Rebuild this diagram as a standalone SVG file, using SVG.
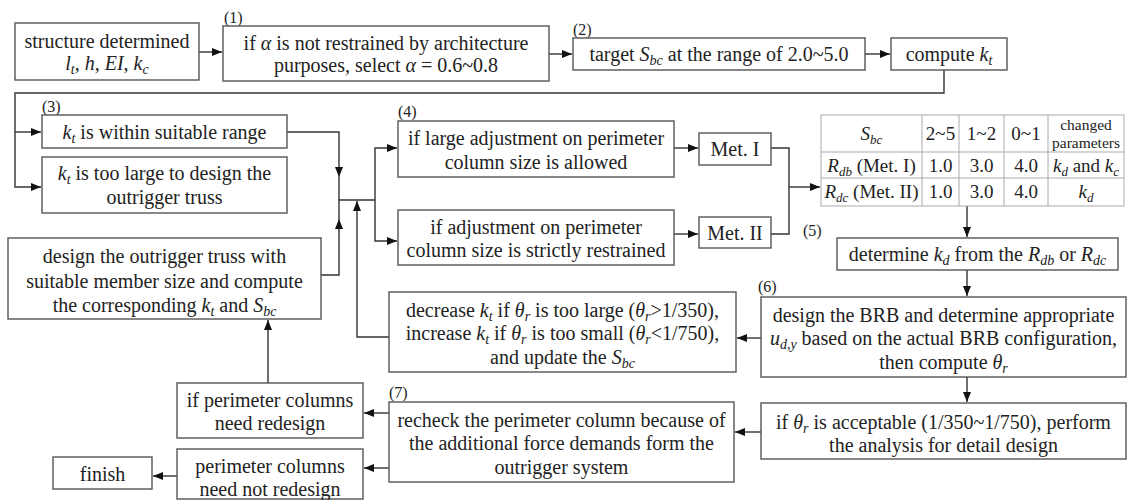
<svg xmlns="http://www.w3.org/2000/svg" width="1131" height="500" viewBox="0 0 1131 500" font-family="'Liberation Serif', 'Times New Roman', serif">
<defs>
<style>
.box{fill:#fff;stroke:#555;stroke-width:1.4}
.tb{fill:none;stroke:#aaa;stroke-width:1}
.c{fill:none;stroke:#333;stroke-width:1.4}
text{font-family:"Liberation Serif","Times New Roman",serif;font-size:20px;fill:#222;text-anchor:middle}
.lb{font-size:16px;text-anchor:start}
.i{font-style:italic}
.s{font-size:14px;font-style:italic}
.tt{font-size:19px}
.sm{font-size:15.5px}
.ts{font-size:13px;font-style:italic}
</style>
<marker id="ah" markerWidth="10" markerHeight="8" refX="10" refY="4" orient="auto" markerUnits="userSpaceOnUse"><path d="M0,0 L10,4 L0,8 z" fill="#111"/></marker>
</defs>
<rect width="1131" height="500" fill="#fff"/>

<g id="connectors">
<path class="c" d="M199,52 H222" marker-end="url(#ah)"/>
<path class="c" d="M549,54 H572" marker-end="url(#ah)"/>
<path class="c" d="M865,54 H890" marker-end="url(#ah)"/>
<path class="c" d="M944,70 V93 H15 V187 H41" marker-end="url(#ah)"/>
<path class="c" d="M15,132 H41" marker-end="url(#ah)"/>
<path class="c" d="M287,132 H339 V177" marker-end="url(#ah)"/>
<path class="c" d="M339,177 V200"/>
<path class="c" d="M321,275 H339 V219" marker-end="url(#ah)"/>
<path class="c" d="M339,219 V200 H375"/>
<path class="c" d="M389,337 H357 V201" marker-end="url(#ah)"/>
<path class="c" d="M375,200 V148 H397" marker-end="url(#ah)"/>
<path class="c" d="M375,200 V241 H397" marker-end="url(#ah)"/>
<path class="c" d="M674,148 H698" marker-end="url(#ah)"/>
<path class="c" d="M674,234 H698" marker-end="url(#ah)"/>
<path class="c" d="M771,148 H789 V234 H771"/>
<path class="c" d="M789,187 H820" marker-end="url(#ah)"/>
<path class="c" d="M967,206 V237" marker-end="url(#ah)"/>
<path class="c" d="M967,270 V296" marker-end="url(#ah)"/>
<path class="c" d="M761,338 H737" marker-end="url(#ah)"/>
<path class="c" d="M967,377 V402" marker-end="url(#ah)"/>
<path class="c" d="M761,432 H735" marker-end="url(#ah)"/>
<path class="c" d="M389,413 H364" marker-end="url(#ah)"/>
<path class="c" d="M389,468 H364" marker-end="url(#ah)"/>
<path class="c" d="M268,383 V320" marker-end="url(#ah)"/>
<path class="c" d="M177,476 H153" marker-end="url(#ah)"/>
</g>

<g id="labels">
<text class="lb" x="224" y="23">(1)</text>
<text class="lb" x="573" y="35">(2)</text>
<text class="lb" x="42" y="112">(3)</text>
<text class="lb" x="398" y="117">(4)</text>
<text class="lb" x="803" y="236">(5)</text>
<text class="lb" x="758" y="292">(6)</text>
<text class="lb" x="389" y="398">(7)</text>
</g>

<g id="n-structure">
<rect class="box" x="15" y="23" width="184" height="57"/>
<text x="107" y="48">structure determined</text>
<text x="107" y="70"><tspan class="i">l</tspan><tspan class="s" dy="4">t</tspan><tspan dy="-4">, </tspan><tspan class="i">h</tspan>, <tspan class="i">EI</tspan>, <tspan class="i">k</tspan><tspan class="s" dy="4">c</tspan></text>
</g>

<g id="n-alpha">
<rect class="box" x="223" y="26" width="326" height="55"/>
<text x="386" y="50">if <tspan class="i">α</tspan> is not restrained by architecture</text>
<text x="386" y="72">purposes, select <tspan class="i">α</tspan> = 0.6~0.8</text>
</g>

<g id="n-target">
<rect class="box" x="573" y="38" width="292" height="32"/>
<text x="719" y="61">target <tspan class="i">S</tspan><tspan class="s" dy="4">bc</tspan><tspan dy="-4"> at the range of 2.0~5.0</tspan></text>
</g>

<g id="n-compute">
<rect class="box" x="891" y="38" width="116" height="32"/>
<text x="949" y="61">compute <tspan class="i">k</tspan><tspan class="s" dy="4">t</tspan></text>
</g>

<g id="n-suitable">
<rect class="box" x="42" y="115" width="245" height="33"/>
<text x="164.5" y="138.5"><tspan class="i">k</tspan><tspan class="s" dy="4">t</tspan><tspan dy="-4"> is within suitable range</tspan></text>
</g>

<g id="n-toolarge">
<rect class="box" x="42" y="157" width="245" height="56"/>
<text x="164.5" y="180"><tspan class="i">k</tspan><tspan class="s" dy="4">t</tspan><tspan dy="-4"> is too large to design the</tspan></text>
<text x="164.5" y="204">outrigger truss</text>
</g>

<g id="n-designtruss">
<rect class="box" x="8" y="238" width="313" height="81"/>
<text x="164.5" y="263">design the outrigger truss with</text>
<text x="164.5" y="288">suitable member size and compute</text>
<text x="164.5" y="312">the corresponding <tspan class="i">k</tspan><tspan class="s" dy="4">t</tspan><tspan dy="-4"> and </tspan><tspan class="i">S</tspan><tspan class="s" dy="4">bc</tspan></text>
</g>

<g id="n-large">
<rect class="box" x="398" y="121" width="276" height="56"/>
<text x="536" y="145">if large adjustment on perimeter</text>
<text x="536" y="169">column size is allowed</text>
</g>

<g id="n-restrained">
<rect class="box" x="398" y="210" width="276" height="55"/>
<text x="536" y="234">if adjustment on perimeter</text>
<text x="536" y="257">column size is strictly restrained</text>
</g>

<g id="n-met1">
<rect class="box" x="699" y="133" width="72" height="32"/>
<text x="735" y="156">Met. I</text>
</g>

<g id="n-met2">
<rect class="box" x="699" y="217" width="72" height="31"/>
<text x="735" y="239.5">Met. II</text>
</g>

<g id="n-table">
<rect class="tb" x="821" y="115" width="303" height="91"/>
<path class="tb" d="M821,152 H1124 M821,178 H1124 M922,115 V206 M959,115 V206 M1004,115 V206 M1048,115 V206"/>
<text class="tt" x="871.5" y="140"><tspan class="i">S</tspan><tspan class="ts" dy="4">bc</tspan></text>
<text class="tt" x="940.5" y="140">2~5</text>
<text class="tt" x="981.5" y="140">1~2</text>
<text class="tt" x="1026" y="140">0~1</text>
<text class="sm" x="1086" y="130">changed</text>
<text class="sm" x="1086" y="148">parameters</text>
<text class="tt" x="871.5" y="171.5"><tspan class="i">R</tspan><tspan class="ts" dy="4">db</tspan><tspan dy="-4"> (Met. I)</tspan></text>
<text class="tt" x="940.5" y="171.5">1.0</text>
<text class="tt" x="981.5" y="171.5">3.0</text>
<text class="tt" x="1026" y="171.5">4.0</text>
<text class="tt" x="1086" y="171.5"><tspan class="i">k</tspan><tspan class="ts" dy="4">d</tspan><tspan dy="-4"> and </tspan><tspan class="i">k</tspan><tspan class="ts" dy="4">c</tspan></text>
<text class="tt" x="871.5" y="198"><tspan class="i">R</tspan><tspan class="ts" dy="4">dc</tspan><tspan dy="-4"> (Met. II)</tspan></text>
<text class="tt" x="940.5" y="198">1.0</text>
<text class="tt" x="981.5" y="198">3.0</text>
<text class="tt" x="1026" y="198">4.0</text>
<text class="tt" x="1086" y="198"><tspan class="i">k</tspan><tspan class="ts" dy="4">d</tspan></text>
</g>

<g id="n-determine">
<rect class="box" x="837" y="238" width="281" height="32"/>
<text x="977.5" y="261">determine <tspan class="i">k</tspan><tspan class="s" dy="4">d</tspan><tspan dy="-4"> from the </tspan><tspan class="i">R</tspan><tspan class="s" dy="4">db</tspan><tspan dy="-4"> or </tspan><tspan class="i">R</tspan><tspan class="s" dy="4">dc</tspan></text>
</g>

<g id="n-brb">
<rect class="box" x="761" y="297" width="365" height="80"/>
<text x="943.5" y="322">design the BRB and determine appropriate</text>
<text x="943.5" y="345"><tspan class="i">u</tspan><tspan class="s" dy="4">d,y</tspan><tspan dy="-4"> based on the actual BRB configuration,</tspan></text>
<text x="943.5" y="369">then compute <tspan class="i">θ</tspan><tspan class="s" dy="4">r</tspan></text>
</g>

<g id="n-adjust">
<rect class="box" x="389" y="292" width="347" height="80"/>
<text x="562.5" y="317">decrease <tspan class="i">k</tspan><tspan class="s" dy="4">t</tspan><tspan dy="-4"> if </tspan><tspan class="i">θ</tspan><tspan class="s" dy="4">r</tspan><tspan dy="-4"> is too large (</tspan><tspan class="i">θ</tspan><tspan class="s" dy="4">r</tspan><tspan dy="-4">&gt;1/350),</tspan></text>
<text x="562.5" y="340">increase <tspan class="i">k</tspan><tspan class="s" dy="4">t</tspan><tspan dy="-4"> if </tspan><tspan class="i">θ</tspan><tspan class="s" dy="4">r</tspan><tspan dy="-4"> is too small (</tspan><tspan class="i">θ</tspan><tspan class="s" dy="4">r</tspan><tspan dy="-4">&lt;1/750),</tspan></text>
<text x="562.5" y="364">and update the <tspan class="i">S</tspan><tspan class="s" dy="4">bc</tspan></text>
</g>

<g id="n-acceptable">
<rect class="box" x="761" y="403" width="365" height="56"/>
<text x="943.5" y="429">if <tspan class="i">θ</tspan><tspan class="s" dy="4">r</tspan><tspan dy="-4"> is acceptable (1/350~1/750), perform</tspan></text>
<text x="943.5" y="452">the analysis for detail design</text>
</g>

<g id="n-recheck">
<rect class="box" x="389" y="402" width="345" height="80"/>
<text x="561.5" y="427">recheck the perimeter column because of</text>
<text x="561.5" y="450">the additional force demands form the</text>
<text x="561.5" y="474">outrigger system</text>
</g>

<g id="n-redesign">
<rect class="box" x="177" y="383" width="186" height="55"/>
<text x="270" y="407">if perimeter columns</text>
<text x="270" y="430">need redesign</text>
</g>

<g id="n-noredesign">
<rect class="box" x="177" y="449" width="186" height="50"/>
<text x="270" y="473">perimeter columns</text>
<text x="270" y="496">need not redesign</text>
</g>

<g id="n-finish">
<rect class="box" x="53" y="457" width="99" height="32"/>
<text x="102.5" y="481">finish</text>
</g>
</svg>
